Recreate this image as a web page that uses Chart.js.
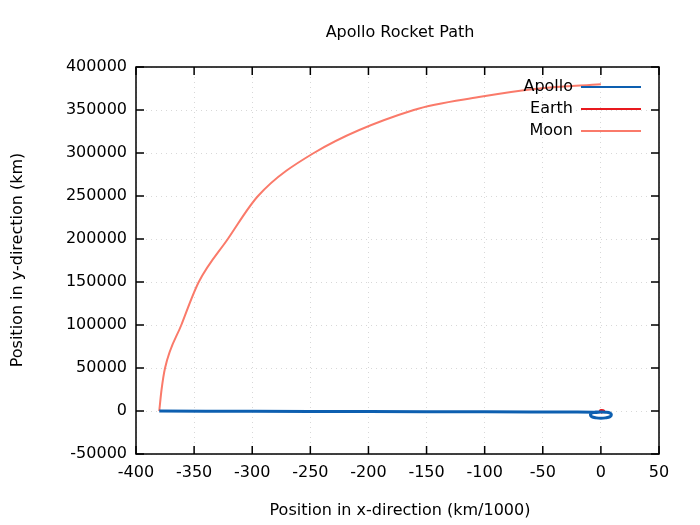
<!DOCTYPE html>
<html>
<head>
<meta charset="utf-8">
<script src="https://cdn.jsdelivr.net/npm/chart.js@4/dist/chart.umd.min.js"></script>
<style>body{margin:0;background:#fff}#wrap{width:700px;height:525px}</style>
</head>
<body>
<div id="wrap"><canvas id="c"></canvas></div>
<script>
// valores (x em km/1000, y em km)
var apolloX = [-380, -300, -200, -100, -20, -6, -4, 0, 4, 8, 9, 8, 4, 0, -4, -8, -9, -8, -4, 0];
var apolloY = [0, -300, -600, -900, -1200, -1400, -1600, -1200, -1400, -2500, -4500, -6500, -8000, -8500, -8000, -6500, -4500, -2500, -1200, -1200];
var earthX = [0, 2, 3, 2, 0, -1, 0];
var earthY = [-2000, -1000, 0, 1000, 1200, 0, -2000];
var moonX = [-380, -378, -375, -361, -346, -321, -295, -247, -161, -105, -53, 0];
var moonY = [0, 25000, 50000, 100000, 150000, 200000, 250000, 300000, 350000, 365000, 375000, 380000];

function pares(xs, ys) {
    var r = [];
    for (var i = 0; i < xs.length; i++) r.push({x: xs[i], y: ys[i]});
    return r;
}

const fonte = 'DejaVu Sans, sans-serif';

const molduraPlugin = {
    id: 'moldura',
    afterDraw(chart) {
        const ctx = chart.ctx, a = chart.chartArea;
        const sx = chart.scales.x, sy = chart.scales.y;
        ctx.save();
        ctx.strokeStyle = '#000';
        ctx.lineWidth = 1.5;
        ctx.strokeRect(a.left, a.top, a.right - a.left, a.bottom - a.top);
        ctx.beginPath();
        sx.ticks.forEach(t => {
            const p = sx.getPixelForValue(t.value);
            ctx.moveTo(p, a.bottom); ctx.lineTo(p, a.bottom - 8);
            ctx.moveTo(p, a.top); ctx.lineTo(p, a.top + 8);
        });
        sy.ticks.forEach(t => {
            const p = sy.getPixelForValue(t.value);
            ctx.moveTo(a.left, p); ctx.lineTo(a.left + 8, p);
            ctx.moveTo(a.right, p); ctx.lineTo(a.right - 8, p);
        });
        ctx.stroke();

        ctx.fillStyle = '#000';
        ctx.font = '16px ' + fonte;
        ctx.textAlign = 'center';
        ctx.textBaseline = 'middle';
        ctx.fillText('Apollo Rocket Path', 400, 33);
        ctx.fillText('Position in x-direction (km/1000)', 400, 511);
        ctx.save();
        ctx.translate(18, 260);
        ctx.rotate(-Math.PI / 2);
        ctx.fillText('Position in y-direction (km)', 0, 0);
        ctx.restore();

        // legenda estilo gnuplot
        ctx.textAlign = 'right';
        chart.data.datasets.forEach((d, i) => {
            const y = 87 + i * 22;
            ctx.fillStyle = '#000';
            ctx.fillText(d.label, 573, y);
            ctx.strokeStyle = d.borderColor;
            ctx.lineWidth = 2;
            ctx.beginPath();
            ctx.moveTo(581, y); ctx.lineTo(641, y);
            ctx.stroke();
        });
        ctx.restore();
    }
};

const dados = {
    datasets: [
        {label: 'Apollo', data: pares(apolloX, apolloY), borderColor: '#0d5fb0', borderWidth: 3},
        {label: 'Earth', data: pares(earthX, earthY), borderColor: '#e8191e', borderWidth: 2},
        {label: 'Moon', data: pares(moonX, moonY), borderColor: '#fa7a6a', borderWidth: 2}
    ]
};
dados.datasets.forEach(d => { d.showLine = true; d.pointRadius = 0; d.fill = false; d.cubicInterpolationMode = 'monotone'; });
dados.datasets[0].cubicInterpolationMode = 'default';
dados.datasets[0].tension = 0.4;
dados.datasets[1].tension = 0.4;
dados.datasets[1].cubicInterpolationMode = 'default';

new Chart(document.getElementById('c'), {
    type: 'scatter',
    data: dados,
    options: {
        responsive: true,
        maintainAspectRatio: false,
        animation: false,
        layout: {padding: {top: 67, right: 41, left: 0, bottom: 0}},
        plugins: {legend: {display: false}, tooltip: {enabled: false}},
        scales: {
            x: {
                min: -400, max: 50,
                afterFit: s => { s.height = 71; },
                ticks: {stepSize: 50, color: '#000', font: {family: fonte, size: 16}, padding: 9, maxRotation: 0,
                    callback: v => String(v)},
                grid: {color: '#d8d8d8', drawTicks: false},
                border: {display: false, dash: [1, 4]}
            },
            y: {
                min: -50000, max: 400000,
                afterFit: s => { s.width = 136; },
                ticks: {stepSize: 50000, color: '#000', font: {family: fonte, size: 16}, padding: 9,
                    callback: v => String(v)},
                grid: {color: '#d8d8d8', drawTicks: false},
                border: {display: false, dash: [1, 4]}
            }
        }
    },
    plugins: [molduraPlugin]
});
</script>
</body>
</html>
